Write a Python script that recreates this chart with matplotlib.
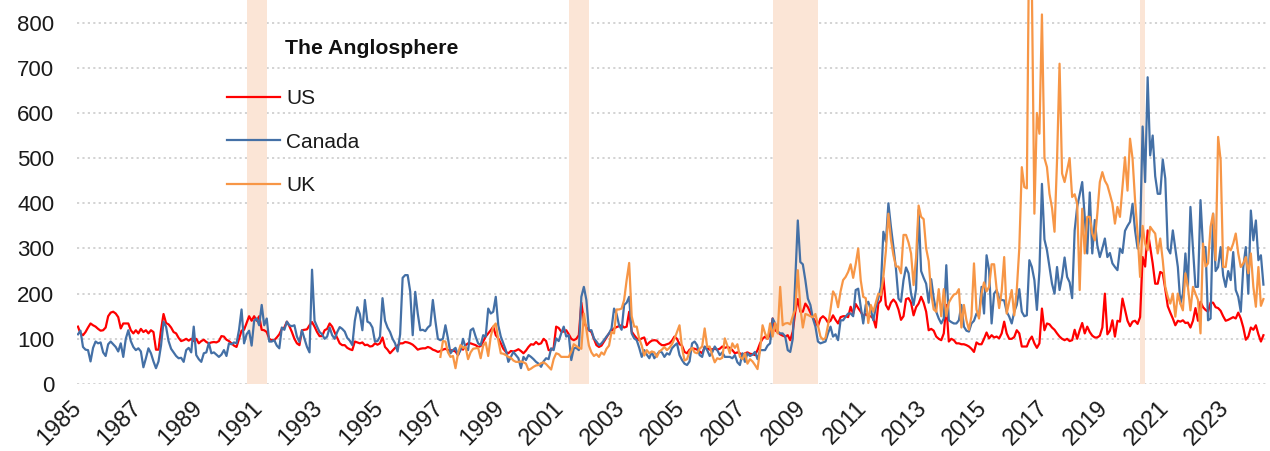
import numpy as np
import pandas as pd
import matplotlib
matplotlib.use("Agg")
import matplotlib.pyplot as plt

# ---------------- data (monthly) ----------------
start_month = "1985-01"
uk_start_month = "1997-01"

us_values = [
    127, 112, 108, 115, 125, 134, 130, 127, 122, 118, 119, 125,   # 1985
    150, 158, 160, 156, 148, 123, 134, 134, 134, 119, 112, 119,   # 1986
    112, 122, 115, 119, 112, 119, 115, 76, 76, 120, 155, 135,     # 1987
    132, 125, 115, 112, 102, 95, 97, 100, 96, 100, 95, 100,       # 1988
    90, 95, 98, 93, 90, 92, 93, 92, 95, 106, 105, 98,             # 1989
    95, 90, 85, 82, 100, 118, 120, 135, 150, 140, 150, 140,       # 1990
    150, 120, 119, 115, 100, 97, 97, 103, 110, 122, 125, 138,     # 1991
    128, 115, 100, 90, 86, 119, 120, 121, 130, 137, 127, 115,     # 1992
    106, 106, 119, 122, 134, 127, 114, 102, 90, 86, 86, 80,       # 1993
    77, 75, 94, 92, 90, 92, 86, 87, 83, 84, 90, 87,               # 1994
    90, 103, 82, 76, 68, 74, 80, 85, 90, 90, 93, 92,              # 1995
    90, 87, 82, 76, 78, 79, 79, 82, 80, 76, 74, 71,               # 1996
    73, 76, 78, 75, 75, 74, 72, 64, 80, 76, 86, 90,               # 1997
    90, 88, 86, 82, 84, 94, 105, 112, 119, 127, 108, 101,         # 1998
    90, 78, 71, 68, 73, 72, 74, 77, 73, 68, 74, 82,               # 1999
    88, 87, 93, 88, 90, 100, 95, 75, 75, 80, 127, 124,            # 2000
    116, 116, 119, 110, 100, 97, 100, 108, 180, 140, 125, 119,    # 2001
    115, 100, 86, 82, 85, 94, 103, 112, 118, 123, 126, 128,       # 2002
    130, 125, 127, 160, 116, 108, 101, 97, 101, 103, 86, 92,      # 2003
    96, 97, 96, 90, 86, 86, 88, 90, 96, 105, 100, 88,             # 2004
    85, 71, 68, 76, 79, 78, 76, 72, 68, 82, 80, 76,               # 2005
    77, 78, 76, 78, 83, 80, 82, 80, 75, 68, 70, 68,               # 2006
    64, 68, 70, 67, 66, 64, 75, 90, 100, 105, 100, 110,           # 2007
    145, 119, 115, 110, 107, 105, 108, 97, 116, 160, 188, 160,    # 2008
    160, 178, 170, 158, 147, 138, 128, 145, 150, 145, 136, 140,   # 2009
    152, 142, 134, 148, 150, 150, 148, 171, 155, 177, 168, 160,   # 2010
    150, 155, 150, 150, 145, 125, 178, 185, 235, 175, 165, 180,   # 2011
    187, 180, 165, 142, 150, 188, 190, 180, 152, 170, 178, 193,   # 2012
    180, 160, 119, 122, 118, 105, 100, 97, 112, 175, 94, 100,     # 2013
    97, 90, 90, 88, 88, 86, 83, 78, 71, 92, 88, 88,               # 2014
    100, 114, 101, 108, 103, 105, 101, 112, 138, 112, 100, 100,   # 2015
    104, 119, 112, 83, 83, 83, 97, 105, 90, 80, 90, 167,          # 2016
    119, 134, 132, 125, 120, 112, 105, 100, 97, 100, 95, 97,      # 2017
    120, 100, 119, 135, 112, 127, 115, 107, 103, 103, 107, 125,   # 2018
    200, 110, 118, 141, 105, 140, 138, 189, 165, 140, 128, 138,   # 2019
    140, 133, 148, 281, 260, 340, 303, 267, 222, 222, 248, 245,   # 2020
    210, 172, 158, 145, 130, 140, 138, 141, 135, 136, 125, 140,   # 2021
    168, 140, 182, 170, 164, 160, 180, 180, 170, 168, 162, 150,   # 2022
    140, 142, 145, 148, 145, 158, 145, 125, 98, 105, 125, 120,    # 2023
    130, 110, 94, 108,                                            # 2024
]

canada_values = [
    110, 118, 82, 76, 75, 50, 80, 94, 90, 92, 70, 62,             # 1985
    88, 94, 88, 82, 72, 90, 60, 100, 119, 95, 82, 75,             # 1986
    79, 72, 37, 57, 79, 68, 50, 35, 50, 85, 138, 127,             # 1987
    95, 78, 70, 62, 57, 58, 49, 75, 80, 70, 127, 64,              # 1988
    55, 49, 68, 70, 91, 68, 70, 65, 60, 65, 75, 62,               # 1989
    90, 88, 92, 90, 120, 165, 90, 110, 118, 85, 140, 145,         # 1990
    130, 175, 130, 145, 94, 94, 97, 85, 79, 125, 120, 138,        # 1991
    130, 128, 130, 105, 93, 119, 100, 82, 70, 253, 140, 127,      # 1992
    115, 110, 100, 105, 125, 108, 100, 115, 126, 122, 116, 102,   # 1993
    96, 86, 140, 170, 155, 119, 186, 138, 135, 125, 94, 95,       # 1994
    105, 190, 140, 125, 115, 100, 90, 72, 110, 235, 241, 241,     # 1995
    205, 108, 204, 156, 119, 120, 117, 125, 130, 186, 140, 100,   # 1996
    97, 100, 130, 101, 68, 75, 80, 64, 75, 100, 80, 75,           # 1997
    119, 123, 105, 90, 86, 108, 105, 167, 156, 160, 193, 130,     # 1998
    105, 90, 75, 49, 60, 71, 64, 57, 35, 60, 53, 64,              # 1999
    60, 55, 49, 45, 38, 50, 57, 55, 79, 75, 101, 95,              # 2000
    112, 127, 105, 108, 53, 79, 80, 75, 193, 215, 186, 119,       # 2001
    119, 101, 94, 86, 90, 97, 105, 112, 123, 167, 155, 130,       # 2002
    120, 175, 180, 193, 112, 101, 97, 80, 60, 75, 65, 57,         # 2003
    71, 57, 65, 72, 70, 60, 68, 65, 79, 85, 90, 64,               # 2004
    53, 45, 42, 50, 90, 94, 86, 64, 60, 83, 75, 62,               # 2005
    70, 83, 75, 64, 70, 60, 60, 60, 57, 64, 48, 42,               # 2006
    68, 49, 68, 62, 65, 71, 55, 75, 75, 75, 85, 90,               # 2007
    145, 134, 116, 112, 112, 105, 75, 71, 100, 230, 362, 270,     # 2008
    265, 230, 189, 175, 145, 127, 94, 90, 92, 94, 112, 127,       # 2009
    105, 110, 97, 141, 141, 149, 156, 156, 150, 208, 211, 171,    # 2010
    134, 175, 182, 165, 141, 170, 190, 215, 337, 315, 400, 348,   # 2011
    303, 255, 189, 182, 230, 258, 245, 200, 175, 210, 385, 250,   # 2012
    235, 222, 180, 232, 190, 160, 145, 134, 145, 263, 141, 137,   # 2013
    134, 134, 141, 175, 127, 118, 116, 134, 140, 156, 150, 215,   # 2014
    156, 285, 252, 134, 200, 208, 190, 186, 185, 160, 149, 134,   # 2015
    160, 175, 210, 160, 150, 152, 274, 259, 230, 164, 250, 443,   # 2016
    320, 296, 259, 222, 200, 259, 208, 237, 280, 237, 225, 190,   # 2017
    340, 392, 420, 447, 370, 289, 424, 289, 363, 307, 281, 300,   # 2018
    322, 281, 290, 267, 259, 252, 300, 290, 339, 350, 359, 399,   # 2019
    340, 300, 330, 570, 447, 679, 506, 550, 460, 421, 421, 497,   # 2020
    455, 300, 289, 340, 300, 259, 178, 200, 289, 215, 392, 300,   # 2021
    215, 215, 407, 303, 303, 141, 145, 377, 250, 259, 303, 240,   # 2022
    215, 250, 230, 292, 208, 193, 160, 259, 303, 200, 384, 318,   # 2023
    362, 274, 285, 220,                                           # 2024
]

uk_values = [
    60, 95, 94, 70, 60, 62, 35, 68, 86, 80, 82, 55,               # 1997
    70, 78, 79, 80, 57, 85, 92, 62, 105, 127, 134, 97,            # 1998
    68, 67, 64, 60, 58, 52, 49, 49, 50, 48, 45, 31,               # 1999
    34, 38, 41, 42, 46, 48, 44, 38, 32, 55, 68, 66,               # 2000
    60, 60, 60, 60, 72, 88, 84, 80, 78, 156, 120, 85,             # 2001
    70, 62, 66, 60, 70, 65, 78, 85, 115, 112, 165, 165,           # 2002
    167, 186, 230, 268, 150, 127, 127, 100, 85, 63, 75, 68,       # 2003
    72, 70, 60, 72, 76, 82, 75, 80, 88, 100, 115, 130,            # 2004
    80, 52, 55, 72, 80, 70, 68, 78, 83, 123, 82, 83,              # 2005
    64, 48, 57, 55, 58, 101, 85, 68, 90, 80, 88, 60,              # 2006
    55, 68, 45, 55, 50, 42, 33, 75, 130, 112, 100, 134,           # 2007
    105, 135, 112, 215, 130, 134, 135, 132, 150, 165, 252, 170,   # 2008
    125, 155, 153, 150, 148, 155, 130, 105, 98, 102, 130, 165,    # 2009
    205, 195, 170, 205, 230, 237, 248, 265, 235, 265, 300, 230,   # 2010
    193, 190, 135, 175, 160, 180, 200, 197, 237, 295, 377, 320,   # 2011
    285, 260, 260, 245, 330, 330, 313, 289, 219, 280, 395, 370,   # 2012
    365, 300, 272, 200, 165, 160, 210, 150, 210, 150, 180, 190,   # 2013
    198, 200, 210, 125, 175, 141, 120, 150, 267, 165, 145, 200,   # 2014
    225, 205, 215, 265, 265, 210, 168, 205, 281, 156, 182, 208,   # 2015
    152, 208, 300, 480, 436, 433, 1050, 880, 377, 600, 554, 818,  # 2016
    500, 480, 421, 390, 337, 495, 709, 466, 447, 473, 500, 414,   # 2017
    420, 399, 208, 388, 289, 370, 370, 333, 318, 377, 447, 469,   # 2018
    450, 440, 420, 399, 355, 392, 370, 436, 502, 428, 543, 499,   # 2019
    407, 333, 237, 350, 311, 296, 348, 340, 333, 289, 322, 274,   # 2020
    215, 193, 178, 200, 149, 200, 178, 163, 245, 215, 163, 215,   # 2021
    200, 186, 112, 311, 260, 267, 348, 377, 274, 547, 495, 259,   # 2022
    259, 303, 296, 311, 333, 289, 259, 267, 281, 245, 289, 215,   # 2023
    171, 259, 173, 188,                                           # 2024
]

series_names = ["US", "Canada", "UK"]
series_colors = ["#FF0000", "#4470A6", "#F79646"]
legend_title = "The Anglosphere"

recessions = [("1990-08", "1991-03"), ("2001-04", "2001-11"),
              ("2008-01", "2009-06"), ("2020-03", "2020-04")]

tick_years = list(range(1985, 2024, 2))
y_ticks = list(range(0, 801, 100))

# ---------------- build ----------------
months = pd.period_range(start_month, periods=len(us_values), freq="M")
x = np.arange(len(months))


def month_pos(label):
    return months.get_loc(pd.Period(label, freq="M"))


uk_full = np.full(len(months), np.nan)
k = month_pos(uk_start_month)
uk_full[k:k + len(uk_values)] = uk_values

plt.rcParams["font.family"] = ["Liberation Sans", "DejaVu Sans"]

W, H = 1270, 451
fig = plt.figure(figsize=(W / 100, H / 100), dpi=100)
left_px, right_px, top_px, bottom_px = 76.7, 1267.2, 0, 384
ax = fig.add_axes([left_px / W, (H - bottom_px) / H,
                   (right_px - left_px) / W, (bottom_px - top_px) / H])

for s, e in recessions:
    ax.axvspan(month_pos(s), month_pos(e) + 1, color="#FBE5D6", lw=0, zorder=1)

for vals, name, col in zip([us_values, canada_values, uk_full], series_names, series_colors):
    ax.plot(x, vals, color=col, lw=1.6, label=name, zorder=3,
            solid_joinstyle="round")

ax.set_xlim(-0.5, len(months) + 0.5)
ax.set_ylim(0, 850)
ax.set_yticks(y_ticks)
ax.set_yticklabels([str(v) for v in y_ticks])
ax.set_xticks([month_pos(f"{y}-01") for y in tick_years])
ax.set_xticklabels([str(y) for y in tick_years], rotation=45, ha="right",
                   va="center", rotation_mode="anchor")

ax.yaxis.grid(True, color="#D0D0D0", linestyle=(0, (1.2, 1.8)), lw=1.3, zorder=0)
ax.xaxis.grid(False)
ax.set_axisbelow(True)
for sp in ax.spines.values():
    sp.set_visible(False)
ax.tick_params(axis="both", length=0, colors="#1a1a1a")
ax.tick_params(axis="y", pad=16, labelsize=16)
ax.tick_params(axis="x", pad=15, labelsize=17)

leg = ax.legend(loc="upper left", bbox_to_anchor=(0.126, 0.768), frameon=False,
                fontsize=15, handlelength=2.55, handletextpad=0.3,
                labelspacing=1.18, borderpad=0, borderaxespad=0)
for t in leg.get_texts():
    t.set_color("#1a1a1a")

ax.text(0.175, 0.875, legend_title, transform=ax.transAxes, ha="left", va="center",
        fontsize=15.3, fontweight="bold", color="#111111")

fig.savefig("out.png", dpi=100)
